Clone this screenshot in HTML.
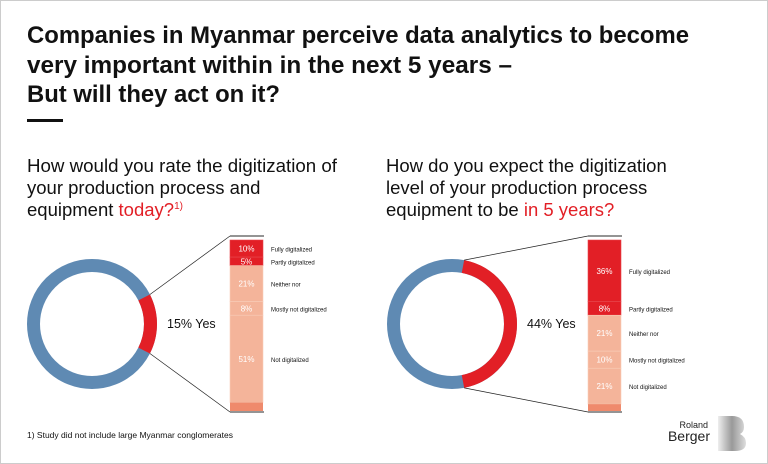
<!DOCTYPE html>
<html><head><meta charset="utf-8"><style>
body{margin:0;background:#fff}
svg{display:block;font-family:"Liberation Sans",sans-serif}
</style></head><body>
<svg id="c" width="768" height="464" viewBox="0 0 768 464">
<rect x="0.5" y="0.5" width="767" height="463" fill="#fff" stroke="#ccc"/>
<g font-weight="bold" font-size="24" fill="#111">
<text x="27" y="43" textLength="662" lengthAdjust="spacingAndGlyphs">Companies in Myanmar perceive data analytics to become</text>
<text x="27" y="73" textLength="485" lengthAdjust="spacingAndGlyphs">very important within in the next 5 years –</text>
<text x="27" y="102" textLength="253" lengthAdjust="spacingAndGlyphs">But will they act on it?</text>
</g>
<rect x="27" y="119" width="36" height="3" fill="#111"/>
<g font-size="18.5" fill="#111">
<text x="27" y="172" textLength="310" lengthAdjust="spacingAndGlyphs">How would you rate the digitization of</text>
<text x="27" y="194">your production process and</text>
<text x="27" y="216">equipment <tspan fill="#e21f26">today?</tspan><tspan font-size="10" dy="-7" fill="#e21f26">1)</tspan></text>
</g>
<g font-size="18.5" fill="#111">
<text x="386" y="172">How do you expect the digitization</text>
<text x="386" y="194">level of your production process</text>
<text x="386" y="216">equipment to be <tspan fill="#e21f26">in 5 years?</tspan></text>
</g>
<text x="27" y="438" font-size="8.5" fill="#111">1) Study did not include large Myanmar conglomerates</text>
<g>
<text x="708" y="428" font-size="9" text-anchor="end" fill="#222">Roland</text>
<text x="710" y="441" font-size="14" text-anchor="end" fill="#222">Berger</text>
<defs><linearGradient id="lg" x1="0" x2="1"><stop offset="0" stop-color="#eee"/><stop offset="0.5" stop-color="#999"/><stop offset="1" stop-color="#ddd"/></linearGradient></defs>
<path d="M718 416 L732 416 Q744 416 744 427 Q744 432 740 434 Q746 437 746 443 Q746 451 735 451 L718 451 Z" fill="url(#lg)"/>
</g>
<g id="plots"></g>
</svg>
<script>
const leftLabels=["Fully digitalized","Partly digitalized","Neither nor","Mostly not digitalized","Not digitalized"];
const leftValues=[10,5,21,8,51];
const leftYes=15;
const rightLabels=["Fully digitalized","Partly digitalized","Neither nor","Mostly not digitalized","Not digitalized"];
const rightValues=[36,8,21,10,21];
const rightYes=44;
const NS="http://www.w3.org/2000/svg";
const g=document.getElementById('plots');
function mk(t,a,p){const e=document.createElementNS(NS,t);for(const k in a)e.setAttribute(k,a[k]);(p||g).appendChild(e);return e;}
function panel(cx,cy,bx,labels,values,yes,side){
  const r=58.5,w=13,top=240,bot=411,H=bot-top;
  const c=mk('circle',{cx:cx,cy:cy,r:r,fill:'none',stroke:'#5f8ab3','stroke-width':w});
  
  
  const half=yes/100*Math.PI;
  const x1=cx+r*Math.cos(-half),y1=cy+r*Math.sin(-half),x2=cx+r*Math.cos(half),y2=cy+r*Math.sin(half);
  const arc=mk('path',{d:`M${x1} ${y1} A${r} ${r} 0 ${yes>50?1:0} 1 ${x2} ${y2}`,fill:'none',stroke:'#e21f26','stroke-width':w});
  
  
  const ro=r+w/2;
  const l1=mk('line',{x1:cx+ro*Math.cos(-half),y1:cy+ro*Math.sin(-half),x2:bx,y2:top-4,stroke:'#222','stroke-width':0.7});
  
  
  const l2=mk('line',{x1:cx+ro*Math.cos(half),y1:cy+ro*Math.sin(half),x2:bx,y2:bot+1,stroke:'#222','stroke-width':0.7});
  
  
  const h1=mk('line',{x1:bx,y1:top-4,x2:bx+34,y2:top-4,stroke:'#555','stroke-width':1.2});
  
  
  const h2=mk('line',{x1:bx,y1:bot+1,x2:bx+34,y2:bot+1,stroke:'#555','stroke-width':1.2});
  
  
  const yt=mk('text',{x:cx+ro+10,y:cy+4,'font-size':12.5,fill:'#111'});
  yt.textContent=yes+'%  Yes';
  
  
  let y=top;
  const tot=100;
  values.forEach((v,i)=>{
    const h=v/tot*H;
    const rc=mk('rect',{x:bx,y:y,width:33,height:h,fill:i<2?'#e21f26':'#f4b49a',stroke:i<2?'#e8464c':'#f8cdb9','stroke-width':0.6});
    
    
    const t=mk('text',{x:bx+16.5,y:y+h/2+3,'font-size':8,fill:'#fff','text-anchor':'middle'});
    t.textContent=v+'%';
    
    
    const lt=mk('text',{x:bx+41,y:y+h/2+3,'font-size':6,fill:'#111'});
    lt.textContent=labels[i];
    
    
    y+=h;
  });
  const rest=mk('rect',{x:bx,y:y,width:33,height:bot-y,fill:'#ef8a6c'});
  
  
}
panel(92,324,230,leftLabels,leftValues,leftYes,'left');
panel(452,324,588,rightLabels,rightValues,rightYes,'right');
</script>
</body></html>
